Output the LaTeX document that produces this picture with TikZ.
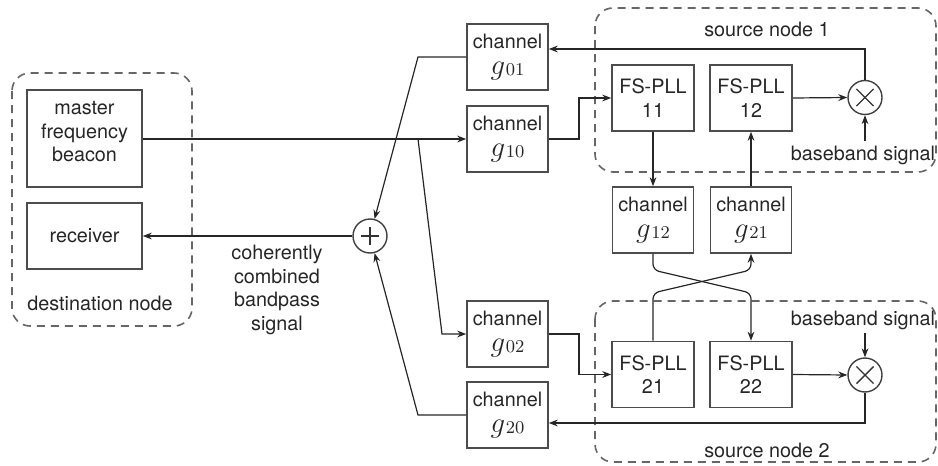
\documentclass[tikz,border=0pt]{standalone}
\usepackage{fontspec}
\setmainfont{TeX Gyre Heros}
\usetikzlibrary{arrows.meta,calc}
\newcommand\gch[1]{{\fontsize{15}{15}\selectfont$g$}\kern0.3pt\raisebox{-0.6pt}{\fontsize{9}{9}\selectfont$#1$}}
\begin{document}
\begin{tikzpicture}[x=0.5pt,y=-0.5pt,
  every node/.style={font=\fontsize{9.9}{11.8}\selectfont, text=black!85},
  blk/.style={draw=black!70, line width=0.8pt, inner sep=0pt, align=center},
  chbox/.style={blk, minimum width=40.5pt, minimum height=33pt},
  pllbox/.style={blk, minimum width=41pt, minimum height=33pt},
  opcirc/.style={circle, draw=black!75, line width=0.7pt, minimum size=17pt, inner sep=0pt},
  dashbox/.style={draw=black!60, line width=0.8pt, dash pattern=on 4pt off 3pt, rounded corners=9pt},
  arr/.style={draw=black!85, line width=0.6pt, -{Stealth[length=4.5pt,width=3.4pt]}},
  lbl/.style={align=center, inner sep=0pt}]
\useasboundingbox (0,0) rectangle (938,466);

% dashed groups
\draw[dashbox] (12,73) rectangle (192,326);
\draw[dashbox] (595,8) rectangle (936,172);
\draw[dashbox] (595,301) rectangle (936,462);

% destination node
\node[blk, minimum width=57.5pt, minimum height=48.5pt] (beacon) at (84.5,138.5) {master\\frequency\\beacon\\[-5pt]\mbox{}};
\node[blk, minimum width=57.5pt, minimum height=33pt] (rx) at (84.5,236) {receiver};
\node[lbl] (dlabel) at (100,303) {destination node};
\node[lbl] (ctext) at (277,290) {coherently\\combined\\bandpass\\signal};

% sum
\node[opcirc, path picture={\draw[black!80,line width=0.7pt] (path picture bounding box.center) ++(-4.6pt,0) -- ++(9.2pt,0) (path picture bounding box.center) ++(0,-4.6pt) -- ++(0,9.2pt);}] (sum) at (370,236) {};

% channels
\node[chbox] (g01) at (507.5,57) {channel\\[1.2pt]\gch{01}};
\node[chbox] (g10) at (507.5,139) {channel\\[1.2pt]\gch{10}};
\node[chbox] (g02) at (507.5,334) {channel\\[1.2pt]\gch{02}};
\node[chbox] (g20) at (507.5,415) {channel\\[1.2pt]\gch{20}};
\node[chbox] (g12) at (653,220) {channel\\[1.2pt]\gch{12}};
\node[chbox] (g21) at (751,220) {channel\\[1.2pt]\gch{21}};

% PLLs
\node[pllbox] (p11) at (653,98) {FS-PLL\\11};
\node[pllbox] (p12) at (751,98) {FS-PLL\\12};
\node[pllbox] (p21) at (653,374.5) {FS-PLL\\21};
\node[pllbox] (p22) at (751,374.5) {FS-PLL\\22};

% multipliers
\tikzset{timespic/.style={path picture={\draw[black!80,line width=0.7pt] (path picture bounding box.center) ++(-4.3pt,-4.3pt) -- ++(8.6pt,8.6pt) (path picture bounding box.center) ++(-4.3pt,4.3pt) -- ++(8.6pt,-8.6pt);}}}
\node[opcirc, timespic] (m1) at (865,97.5) {};
\node[opcirc, timespic] (m2) at (865,375) {};

% labels
\node[lbl] (s1) at (767,29) {source node 1};
\node[lbl] (s2) at (767,450) {source node 2};
\node[lbl] (bb1) at (863,155) {baseband signal};
\node[lbl] (bb2) at (863,320) {baseband signal};

% coordinates
\coordinate (br) at (418,139);
\coordinate (k02) at (442,334);
\coordinate (k01) at (418,57);
\coordinate (k20) at (418,415);
\coordinate (j10) at (579,139);
\coordinate (j02) at (579,334);
\coordinate (c1) at (653,270);
\coordinate (c2) at (751,293);
\coordinate (c3) at (653,293);
\coordinate (c4) at (751,270);
\coordinate (bt1) at (865,141);
\coordinate (bt2) at (865,333);

% connectors
\draw[arr] (beacon.east |- g10.west) -- (g10.west);
\draw[arr] (br) -- (k02) -- (g02.west);
\draw[arr] (g01.west) -- (k01) -- (sum);
\draw[arr] (g20.west) -- (k20) -- (sum);
\draw[arr] (sum.west) -- (rx.east);
\draw[arr] (g10.east) -- (j10) |- (p11.west);
\draw[arr] (g02.east) -- (j02) |- (p21.west);
\draw[arr] (m1.north) |- ($(g01.east)+(0,-8)$);
\draw[arr] (m2.south) |- ($(g20.east)+(0,8)$);
\draw[arr] (p12.east) -- (m1.west);
\draw[arr] (p22.east) -- (m2.west);
\draw[arr] (p11.south) -- (g12.north);
\draw[arr] (g21.north) -- (p12.south);
\draw[arr, rounded corners=3pt] (g12.south) -- (c1) -- (c2) -- (p22.north);
\draw[arr, rounded corners=3pt] (p21.north) -- (c3) -- (c4) -- (g21.south);
\draw[arr] (bt1) -- (m1.south);
\draw[arr] (bt2) -- (m2.north);
\end{tikzpicture}
\end{document}
